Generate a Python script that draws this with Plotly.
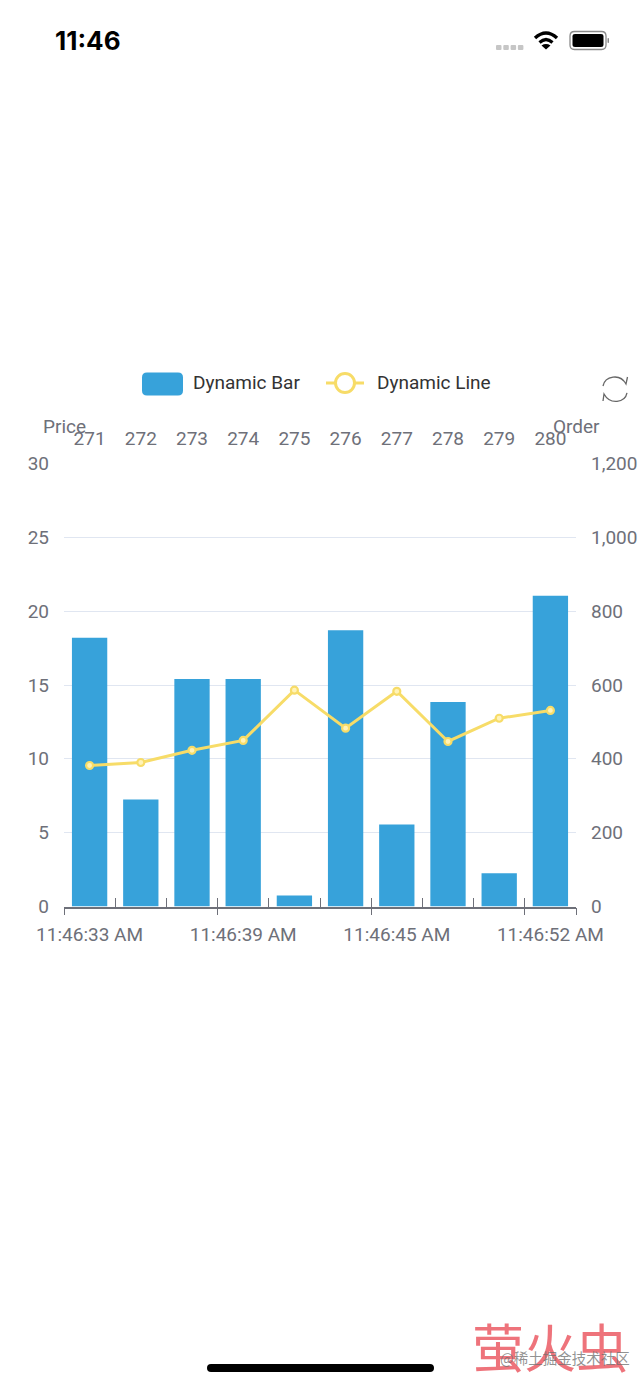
import plotly.graph_objects as go

W, H = 640, 1385
L, R, T, B = 64, 576, 463.5, 906.5

order_ids = ["271", "272", "273", "274", "275", "276", "277", "278", "279", "280"]
time_labels = ["11:46:33 AM", "11:46:39 AM", "11:46:45 AM", "11:46:52 AM"]
time_positions = [0, 3, 6, 9]
bar_values = [18.2, 7.25, 15.4, 15.4, 0.75, 18.7, 5.55, 13.85, 2.25, 21.05]
line_values = [382, 390, 423, 450, 586, 483, 583, 447, 510, 531]
positions = list(range(10))
all_boundaries = [-0.5, 0.5, 1.5, 2.5, 3.5, 4.5, 5.5, 6.5, 7.5, 8.5, 9.5]
major_boundaries = [-0.5, 2.5, 5.5, 8.5, 9.5]

BLUE = "#37A2DA"
YELLOW = "#F7DC68"
GREY = "#6E7079"
FONT = "Roboto"
TXT = 19

def px(x): return x / W
def py(y): return 1 - y / H

def path(*cmds):
    out = []
    for c in cmds:
        if isinstance(c, str):
            out.append(c)
        else:
            out.append(f"{px(c[0]):.5f},{py(c[1]):.5f}")
    s = ""
    for tok in out:
        s += tok if tok.isalpha() else tok + " "
    return s

def rrect(x0, y0, x1, y1, r, **kw):
    d = path("M", (x0 + r, y0), "L", (x1 - r, y0), "Q", (x1, y0), (x1, y0 + r),
             "L", (x1, y1 - r), "Q", (x1, y1), (x1 - r, y1),
             "L", (x0 + r, y1), "Q", (x0, y1), (x0, y1 - r),
             "L", (x0, y0 + r), "Q", (x0, y0), (x0 + r, y0), "Z")
    return dict(type="path", xref="paper", yref="paper", path=d, **kw)

def stroke(d, color, width):
    return dict(type="path", xref="paper", yref="paper", path=d,
                line=dict(color=color, width=width), fillcolor="rgba(0,0,0,0)")

def text(x, y, s, size=TXT, color=GREY, anchor="left", family=FONT, **kw):
    return dict(xref="paper", yref="paper", x=px(x), y=py(y), text=s, showarrow=False,
                xanchor=anchor, yanchor="middle", font=dict(size=size, color=color, family=family),
                **kw)

fig = go.Figure()
fig.add_trace(go.Bar(x=positions, y=bar_values, marker=dict(color=BLUE, line_width=0),
                     width=0.69, name="Dynamic Bar", xaxis="x", yaxis="y"))
fig.add_trace(go.Scatter(x=positions, y=line_values, mode="lines+markers", name="Dynamic Line",
                         line=dict(color=YELLOW, width=3),
                         marker=dict(size=7, color="#FFF3B8", line=dict(color=YELLOW, width=2.2)),
                         xaxis="x", yaxis="y2"))
# invisible carrier for the top category axis
fig.add_trace(go.Scatter(x=positions, y=bar_values, mode="none", xaxis="x2", yaxis="y",
                         showlegend=False, hoverinfo="skip"))

shapes = []
# legend swatches
shapes.append(rrect(142, 372.5, 183, 395.5, 5, fillcolor=BLUE, line_width=0))
shapes.append(stroke(path("M", (326, 383), "L", (364, 383)), YELLOW, 3))
shapes.append(dict(type="circle", xref="paper", yref="paper", x0=px(335.5), x1=px(354.5),
                   y0=py(392.5), y1=py(373.5), fillcolor="white", line=dict(color=YELLOW, width=3)))
# refresh icon
ic = "#666666"
shapes.append(stroke(path("M", (603, 386), "C", (605, 376), (620, 373), (626, 384),
                          "L", (627.5, 377)), ic, 1.3))
shapes.append(stroke(path("M", (627, 393), "C", (625, 403), (610, 405), (604, 394),
                          "L", (603, 401)), ic, 1.3))
# status bar
for x0 in (496, 503.3, 510.6, 517.9):
    shapes.append(rrect(x0, 45, x0 + 5.5, 50, 1, fillcolor="#C6C6C6", line_width=0))
shapes.append(stroke(path("M", (535, 38), "Q", (546, 28), (557, 38)), "#000", 3.4))
shapes.append(stroke(path("M", (539.5, 42.5), "Q", (546, 36.5), (552.5, 42.5)), "#000", 3.2))
shapes.append(dict(type="path", xref="paper", yref="paper",
                   path=path("M", (546, 49.5), "L", (541.5, 45.5), "Q", (546, 42.5), (550.5, 45.5), "Z"),
                   fillcolor="#000", line_width=0))
shapes.append(rrect(570, 31.5, 606, 49.5, 4.5, fillcolor="white", line=dict(color="#8A8A8A", width=1.3)))
shapes.append(rrect(572.5, 34, 603.5, 47, 2.5, fillcolor="#000", line_width=0))
shapes.append(rrect(607.5, 38, 609, 43, 0.7, fillcolor="#8A8A8A", line_width=0))
# home indicator
shapes.append(rrect(207, 1364, 434, 1372, 4, fillcolor="#000", line_width=0))

annotations = [
    text(191, 383, "Dynamic Bar", size=19, color="#333333"),
    text(375, 383, "Dynamic Line", size=19, color="#333333"),
    text(64, 427, "Price", anchor="center"),
    text(576, 427, "Order", anchor="center"),
    text(53, 41, "<b>11:46</b>", size=26, color="#000000", family="Inter"),
    text(470, 1345, "萤火虫", size=52, color="rgba(235,90,100,0.85)", family="Noto Sans CJK SC"),
    text(498, 1357, "@稀土掘金技术社区", size=14.5, color="rgba(110,110,110,0.75)", family="Noto Sans CJK SC"),
]

hidden = dict(range=[-0.5, 9.5], domain=[px(L), px(R)], showgrid=False, zeroline=False, fixedrange=True,
              automargin=False)
fig.update_layout(
    width=W, height=H, margin=dict(l=0, r=0, t=0, b=0), autosize=False,
    paper_bgcolor="white", plot_bgcolor="white", showlegend=False,
    font=dict(family=FONT, size=TXT, color=GREY),
    shapes=shapes, annotations=annotations, hovermode=False,
    xaxis=dict(hidden, tickmode="array", tickvals=time_positions, ticktext=time_labels,
               ticks="", ticklabelstandoff=10, showline=True, linecolor=GREY, linewidth=1.5,
               tickfont=dict(size=TXT, color=GREY), anchor="y", side="bottom"),
    xaxis2=dict(hidden, tickmode="array", tickvals=positions, ticktext=order_ids,
                overlaying="x", side="top", anchor="y", ticks="", ticklabelstandoff=14,
                showline=False, tickfont=dict(size=TXT, color=GREY)),
    xaxis3=dict(hidden, tickmode="array", tickvals=all_boundaries, ticktext=[""] * 11,
                overlaying="x", side="bottom", anchor="y", ticks="inside", ticklen=9, tickwidth=1.3,
                tickcolor=GREY, showline=False),
    xaxis4=dict(hidden, tickmode="array", tickvals=major_boundaries, ticktext=[""] * 5,
                overlaying="x", side="bottom", anchor="y", ticks="outside", ticklen=7, tickwidth=1.3,
                tickcolor=GREY, showline=False),
    yaxis=dict(domain=[py(B), py(T)], range=[0, 30], tickvals=[0, 5, 10, 15, 20, 25, 30],
               showgrid=True, gridcolor="#E0E6F1", gridwidth=1, zeroline=False, fixedrange=True, automargin=False,
               ticks="", ticklabelstandoff=14, tickfont=dict(size=TXT, color=GREY), anchor="x", side="left"),
    yaxis2=dict(domain=[py(B), py(T)], range=[0, 1200], tickvals=[0, 200, 400, 600, 800, 1000, 1200],
                ticktext=["0", "200", "400", "600", "800", "1,000", "1,200"],
                overlaying="y", side="right", anchor="x", showgrid=False, zeroline=False, fixedrange=True, automargin=False,
                ticks="", ticklabelstandoff=14, tickfont=dict(size=TXT, color=GREY)),
)
# empty traces so the tick-only axes are drawn
fig.add_trace(go.Scatter(x=positions, y=bar_values, mode="none", xaxis="x3", yaxis="y", showlegend=False, hoverinfo="skip"))
fig.add_trace(go.Scatter(x=positions, y=bar_values, mode="none", xaxis="x4", yaxis="y", showlegend=False, hoverinfo="skip"))

fig.write_html("out.html", config=dict(displayModeBar=False),
               post_script="document.body.style.margin='0';document.body.style.overflow='hidden';")
